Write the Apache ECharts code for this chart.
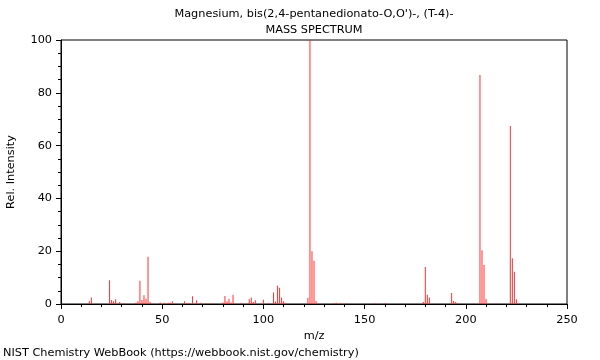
<!DOCTYPE html>
<html><head><meta charset="utf-8">
<script src="https://cdn.jsdelivr.net/npm/echarts@6/dist/echarts.min.js"></script>
<style>html,body{margin:0;padding:0;background:#fff}#c{width:600px;height:360px}</style>
</head><body><div id="c"></div>
<script>
const titleLine1 = "Magnesium, bis(2,4-pentanedionato-O,O')-, (T-4)-";
const titleLine2 = "MASS SPECTRUM";
const xTicks = [0, 50, 100, 150, 200, 250];
const yTicks = [0, 20, 40, 60, 80, 100];
const mz = [14,15,24,25,26,27,29,31,37,38,39,40,41,42,43,44,49,51,53,54,55,61,62,63,65,67,69,72,74,80,81,82,83,84,85,89,93,94,95,96,100,103,105,106,107,108,109,110,111,122,123,124,125,126,135,136,138,141,155,160,179,180,181,182,193,194,195,204,207,208,209,210,215,222,223,224,225];
const intensity = [1.0,2.5,9.0,1.5,1.0,1.8,0.8,0.3,0.5,1.0,8.8,1.5,3.3,2.0,17.9,0.8,0.6,0.5,0.5,0.5,1.0,1.0,0.3,0.3,2.9,1.4,0.5,0.3,0.3,0.6,3.0,1.0,2.0,0.6,3.5,0.5,1.8,2.5,0.8,1.4,1.6,0.3,4.4,0.9,6.9,6.2,2.5,1.0,0.3,2.4,100,20,16.4,1.1,0.4,0.5,0.4,0.3,0.4,0.3,0.8,14.0,3.5,2.5,4.2,1.1,0.8,0.3,86.7,20.4,14.8,1.9,0.3,67.4,17.3,12.2,1.8];

const chart = echarts.init(document.getElementById('c'));
const font = 'DejaVu Sans';
const fs = 11.3;
chart.setOption({
  animation: false,
  backgroundColor: '#fff',
  textStyle: {fontFamily: font},
  grid: {left: 61, right: 33, top: 40, bottom: 56, show: true, borderColor: '#000', borderWidth: 1, containLabel: false, outerBoundsMode: 'none'},
  graphic: [
    {type: 'text', x: 314, y: 14, style: {text: titleLine1, font: fs + 'px "DejaVu Sans"', fill: '#000', align: 'center', verticalAlign: 'middle'}},
    {type: 'text', x: 314, y: 30, style: {text: titleLine2, font: fs + 'px "DejaVu Sans"', fill: '#000', align: 'center', verticalAlign: 'middle'}},
    {type: 'text', x: 3, y: 353, style: {text: 'NIST Chemistry WebBook (https://webbook.nist.gov/chemistry)', font: fs + 'px "DejaVu Sans"', fill: '#000', verticalAlign: 'middle'}}
  ],
  xAxis: {
    type: 'value', min: xTicks[0], max: xTicks[xTicks.length-1], interval: 50,
    name: 'm/z', nameLocation: 'middle', nameGap: 26,
    nameTextStyle: {fontFamily: font, fontSize: fs, color: '#000'},
    axisLine: {show: true, lineStyle: {color: '#000', width: 1}},
    axisTick: {show: true, length: 5, lineStyle: {color: '#000'}},
    minorTick: {show: true, splitNumber: 5, length: 3, lineStyle: {color: '#000'}},
    axisLabel: {fontFamily: font, fontSize: fs, color: '#000', margin: 11},
    splitLine: {show: false}
  },
  yAxis: {
    type: 'value', min: yTicks[0], max: yTicks[yTicks.length-1], interval: 20,
    name: 'Rel. Intensity', nameLocation: 'middle', nameGap: 44,
    nameTextStyle: {fontFamily: font, fontSize: fs, color: '#000'},
    axisLine: {show: true, lineStyle: {color: '#000', width: 1}},
    axisTick: {show: true, length: 5, lineStyle: {color: '#000'}},
    minorTick: {show: true, splitNumber: 4, length: 3, lineStyle: {color: '#000'}},
    axisLabel: {fontFamily: font, fontSize: fs, color: '#000', margin: 9},
    splitLine: {show: false}
  },
  series: [{
    type: 'bar', barWidth: 1,
    itemStyle: {color: '#ff3030'},
    data: mz.map((m, i) => [m, intensity[i]])
  }]
});
</script></body></html>
